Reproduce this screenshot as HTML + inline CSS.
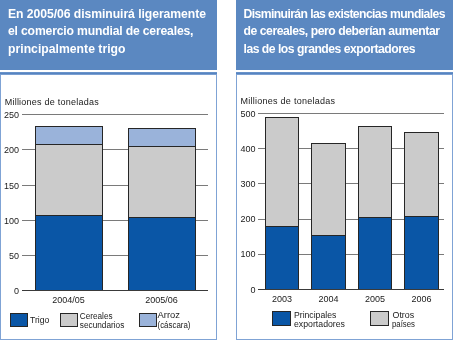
<!DOCTYPE html>
<html><head><meta charset="utf-8">
<style>
html,body{margin:0;padding:0;background:#fff;}
body{width:453px;height:340px;overflow:hidden;}
svg{display:block;will-change:transform;}
text{font-family:"Liberation Sans",sans-serif;}
.h{font-weight:bold;font-size:12.2px;fill:#fff;}
.t{font-size:9px;fill:#1a1a1a;}
</style></head><body>
<svg width="453" height="340" viewBox="0 0 453 340">
<!-- headers -->
<rect x="0" y="0" width="217" height="70" fill="#5b88c1"/>
<rect x="236" y="0" width="217" height="70" fill="#5b88c1"/>
<text class="h" x="8" y="17.5" textLength="198" lengthAdjust="spacing">En 2005/06 disminuirá ligeramente</text>
<text class="h" x="8" y="35" textLength="185.5" lengthAdjust="spacing">el comercio mundial de cereales,</text>
<text class="h" x="8" y="52.5" textLength="117.5" lengthAdjust="spacing">principalmente trigo</text>
<text class="h" x="243.5" y="17.5" textLength="202" lengthAdjust="spacing">Disminuirán las existencias mundiales</text>
<text class="h" x="243.5" y="35" textLength="196.5" lengthAdjust="spacing">de cereales, pero deberían aumentar</text>
<text class="h" x="243.5" y="52.5" textLength="172" lengthAdjust="spacing">las de los grandes exportadores</text>

<!-- panel borders -->
<g>
<rect x="0" y="72" width="217" height="1" fill="#6892c9"/>
<rect x="0" y="73" width="217" height="1" fill="#5684c1"/>
<rect x="0" y="74" width="217" height="1" fill="#7a9fd1"/>
<rect x="0" y="75" width="1" height="265" fill="#7fa3d5"/>
<rect x="216" y="75" width="1" height="265" fill="#7fa3d5"/>
<rect x="0" y="339" width="217" height="1" fill="#7fa3d5"/>
<rect x="236" y="72" width="217" height="1" fill="#6892c9"/>
<rect x="236" y="73" width="217" height="1" fill="#5684c1"/>
<rect x="236" y="74" width="217" height="1" fill="#7a9fd1"/>
<rect x="236" y="75" width="1" height="265" fill="#7fa3d5"/>
<rect x="452" y="75" width="1" height="265" fill="#7fa3d5"/>
<rect x="236" y="339" width="217" height="1" fill="#7fa3d5"/>
</g>

<!-- LEFT CHART -->
<text class="t" x="4.7" y="105" textLength="94" lengthAdjust="spacing">Milliones de toneladas</text>
<g stroke="#7a7a7a" stroke-width="1" shape-rendering="crispEdges">
<line x1="22" y1="114.5" x2="208" y2="114.5"/>
<line x1="22" y1="149.5" x2="208" y2="149.5"/>
<line x1="22" y1="185.5" x2="208" y2="185.5"/>
<line x1="22" y1="220.5" x2="208" y2="220.5"/>
<line x1="22" y1="255.5" x2="208" y2="255.5"/>
</g>
<g class="t" text-anchor="end">
<text x="19" y="118">250</text>
<text x="19" y="153">200</text>
<text x="19" y="188.5">150</text>
<text x="19" y="224">100</text>
<text x="19" y="259">50</text>
<text x="19" y="294">0</text>
</g>
<g stroke="#262626" stroke-width="1" shape-rendering="crispEdges">
<rect x="35.5" y="126.5" width="67" height="18" fill="#9ab3da"/>
<rect x="35.5" y="144.5" width="67" height="71" fill="#cbcbcb"/>
<rect x="35.5" y="215.5" width="67" height="75" fill="#0a56a6"/>
<rect x="128.5" y="128.5" width="67" height="18" fill="#9ab3da"/>
<rect x="128.5" y="146.5" width="67" height="71" fill="#cbcbcb"/>
<rect x="128.5" y="217.5" width="67" height="73" fill="#0a56a6"/>
</g>
<line x1="22" y1="290.5" x2="208" y2="290.5" stroke="#3a3a3a" stroke-width="1" shape-rendering="crispEdges"/>
<g class="t" text-anchor="middle">
<text x="68.5" y="303">2004/05</text>
<text x="161.5" y="303">2005/06</text>
</g>
<g stroke="#262626" stroke-width="1" shape-rendering="crispEdges">
<rect x="10.5" y="313.5" width="17" height="13" fill="#0a56a6"/>
<rect x="60.5" y="313.5" width="17" height="13" fill="#cbcbcb"/>
<rect x="139.5" y="313.5" width="17" height="13" fill="#9ab3da"/>
</g>
<g class="t">
<text x="30" y="322.5" textLength="19.3" lengthAdjust="spacingAndGlyphs" style="font-size:8.7px">Trigo</text>
<text x="79.8" y="318.5" textLength="32.8" lengthAdjust="spacingAndGlyphs" style="font-size:8.5px">Cereales</text>
<text x="79.8" y="328.4" textLength="44.5" lengthAdjust="spacingAndGlyphs" style="font-size:8.5px">secundarios</text>
<text x="157.5" y="318" textLength="22.5" lengthAdjust="spacingAndGlyphs" style="font-size:8.5px">Arroz</text>
<text x="157.5" y="327.5" textLength="33" lengthAdjust="spacingAndGlyphs" style="font-size:8.5px">(cáscara)</text>
</g>

<!-- RIGHT CHART -->
<text class="t" x="240.5" y="104" textLength="94.5" lengthAdjust="spacing">Milliones de toneladas</text>
<g stroke="#7a7a7a" stroke-width="1" shape-rendering="crispEdges">
<line x1="258" y1="113.5" x2="444" y2="113.5"/>
<line x1="258" y1="148.5" x2="444" y2="148.5"/>
<line x1="258" y1="183.5" x2="444" y2="183.5"/>
<line x1="258" y1="219.5" x2="444" y2="219.5"/>
<line x1="258" y1="254.5" x2="444" y2="254.5"/>
</g>
<g class="t" text-anchor="end">
<text x="255.5" y="116.5">500</text>
<text x="255.5" y="151.5">400</text>
<text x="255.5" y="186.8">300</text>
<text x="255.5" y="222.2">200</text>
<text x="255.5" y="257.2">100</text>
<text x="255.5" y="292.5">0</text>
</g>
<g stroke="#262626" stroke-width="1" shape-rendering="crispEdges">
<rect x="265.5" y="117.5" width="33" height="109" fill="#cbcbcb"/>
<rect x="265.5" y="226.5" width="33" height="63" fill="#0a56a6"/>
<rect x="311.5" y="143.5" width="34" height="92" fill="#cbcbcb"/>
<rect x="311.5" y="235.5" width="34" height="54" fill="#0a56a6"/>
<rect x="358.5" y="126.5" width="33" height="91" fill="#cbcbcb"/>
<rect x="358.5" y="217.5" width="33" height="72" fill="#0a56a6"/>
<rect x="404.5" y="132.5" width="34" height="84" fill="#cbcbcb"/>
<rect x="404.5" y="216.5" width="34" height="73" fill="#0a56a6"/>
</g>
<line x1="258" y1="289.5" x2="444" y2="289.5" stroke="#3a3a3a" stroke-width="1" shape-rendering="crispEdges"/>
<g class="t" text-anchor="middle">
<text x="282" y="302">2003</text>
<text x="328.5" y="302">2004</text>
<text x="375" y="302">2005</text>
<text x="421.5" y="302">2006</text>
</g>
<g stroke="#262626" stroke-width="1" shape-rendering="crispEdges">
<rect x="272.5" y="311.5" width="18" height="14" fill="#0a56a6"/>
<rect x="370.5" y="311.5" width="18" height="14" fill="#cbcbcb"/>
</g>
<g class="t">
<text x="294" y="317.8" textLength="42.3" lengthAdjust="spacingAndGlyphs" style="font-size:8.6px">Principales</text>
<text x="294" y="326.5" textLength="51" lengthAdjust="spacingAndGlyphs" style="font-size:8.6px">exportadores</text>
<text x="392.5" y="317.5" textLength="21.7" lengthAdjust="spacingAndGlyphs" style="font-size:8.6px">Otros</text>
<text x="392" y="326.5" textLength="23" lengthAdjust="spacingAndGlyphs" style="font-size:8.6px">países</text>
</g>
</svg>
</body></html>
